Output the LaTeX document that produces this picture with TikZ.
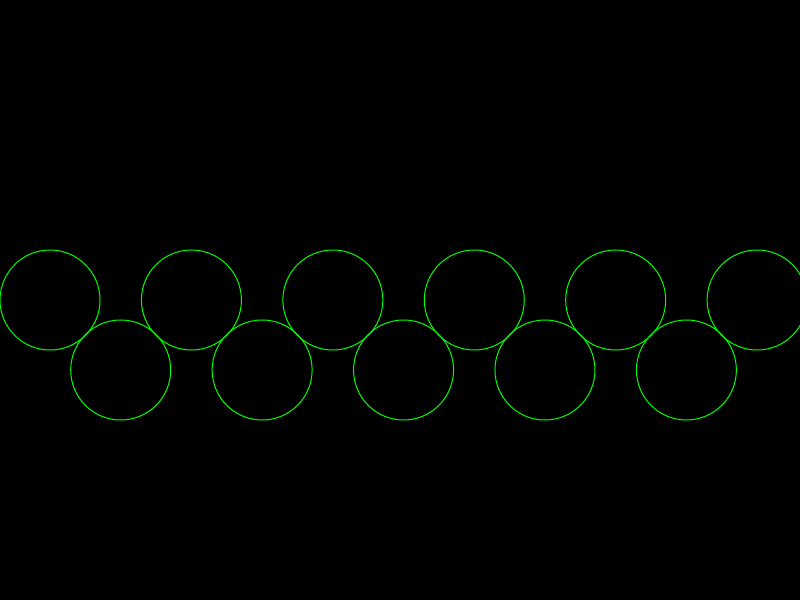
\documentclass[tikz,border=0pt]{standalone}
\begin{document}
\begin{tikzpicture}[x=1pt,y=1pt,
  ring/.style={circle,draw={rgb,255:red,0;green,255;blue,0},line width=1pt,minimum size=100pt,inner sep=0pt}]
\fill[black] (0,0) rectangle (800,600);
\useasboundingbox (0,0) rectangle (800,600);
\clip (0,0) rectangle (800,600);
\foreach \i in {0,...,5}{
  \node[ring] (t\i) at ({50+\i*141.42},300) {};
}
\foreach \i in {0,...,4}{
  \node[ring] (b\i) at ({120.71+\i*141.42},230) {};
}
\end{tikzpicture}
\end{document}
